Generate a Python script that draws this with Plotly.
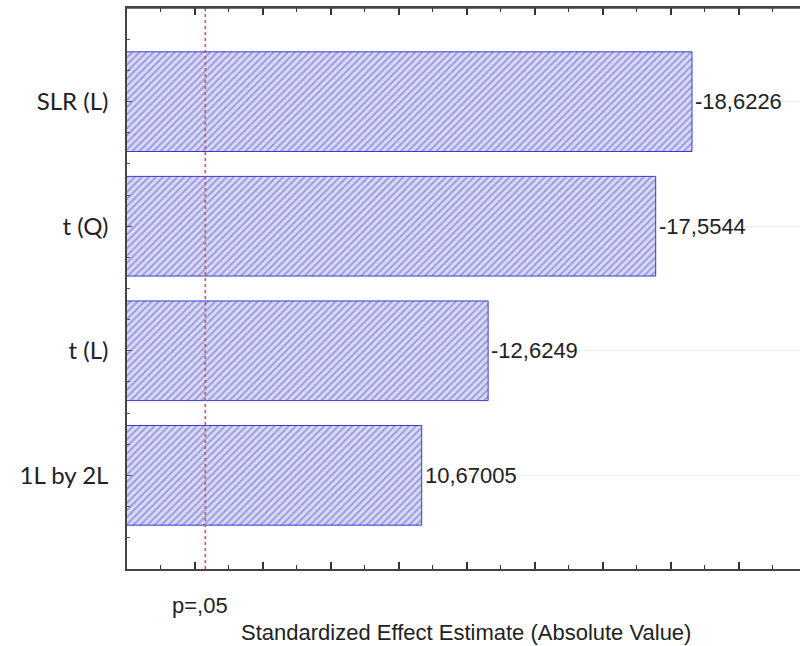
import plotly.graph_objects as go

# Data
factors = ["SLR (L)", "t (Q)", "t (L)", "1L by 2L"]
effects = [18.6226, 17.5544, 12.6249, 10.67005]
effect_labels = ["-18,6226", "-17,5544", "-12,6249", "10,67005"]
p_crit = 4.303
p_label = "p=,05"
x_title = "Standardized Effect Estimate (Absolute Value)"

n = len(factors)
ypos = [n - 1 - i for i in range(n)]

TXT = dict(family="Liberation Sans, Arial", size=22, color="#222222")

fig = go.Figure()
fig.add_trace(go.Bar(
    x=effects, y=ypos, orientation="h", width=0.8,
    base=0,
    marker=dict(
        color="#d8d8f6",
        line=dict(color="#3b3bd0", width=1),
        pattern=dict(shape="/", fgcolor="#5a5ac8", bgcolor="#dadaf6", size=5, solidity=0.4),
    ),
    showlegend=False, hoverinfo="skip",
))

for v, y, t in zip(effects, ypos, effect_labels):
    fig.add_annotation(x=v, y=y, text=t, showarrow=False, xanchor="left", xshift=1,
                       font=TXT)

fig.add_shape(type="line", x0=p_crit, x1=p_crit, y0=0, y1=1, yref="paper",
              line=dict(color="#e2455a", width=1.5, dash="dot"))
# frame top edge
fig.add_shape(type="line", x0=0, x1=1, xref="paper", y0=1, y1=1, yref="paper",
              line=dict(color="#444444", width=1.5), layer="above")

fig.add_annotation(x=p_crit, y=0, yref="paper", text=p_label, showarrow=False,
                   xanchor="center", yanchor="middle", yshift=-36, xshift=-5,
                   font=TXT)
fig.add_annotation(x=0.5, y=0, xref="paper", yref="paper", text=x_title, showarrow=False,
                   xanchor="center", yanchor="middle", yshift=-63, xshift=2,
                   font=TXT)

fig.update_layout(
    width=800, height=646,
    margin=dict(l=127, r=0, t=8, b=77),
    plot_bgcolor="white", paper_bgcolor="white",
    bargap=0.2,
    xaxis=dict(
        range=[2.0, 21.8], showgrid=False, zeroline=False,
        showline=True, linecolor="#444444", linewidth=1.5, mirror="allticks",
        ticks="inside", tick0=0, dtick=2, ticklen=7, tickcolor="#333333", tickwidth=1.5,
        showticklabels=False,
        minor=dict(ticks="inside", dtick=1, tick0=0, ticklen=4, tickcolor="#333333", tickwidth=1.2),
    ),
    yaxis=dict(
        range=[-0.752, 3.752], zeroline=False,
        showline=True, linecolor="#444444", linewidth=1.5,
        tickmode="array", tickvals=ypos, ticktext=factors,
        ticks="inside", ticklen=5, tickcolor="#555555",
        showgrid=True, gridcolor="#f0f0f0", gridwidth=1,
        tickfont=dict(family="Lato, Open Sans", size=24, color="#222222"),
        ticklabelstandoff=12,
        minor=dict(ticks="inside", dtick=0.25, tick0=0, ticklen=3, tickcolor="#555555", showgrid=False),
    ),
)

fig.write_html("out.html", config={"displayModeBar": False},
               post_script="document.body.style.margin='0';document.body.style.overflow='hidden';")
